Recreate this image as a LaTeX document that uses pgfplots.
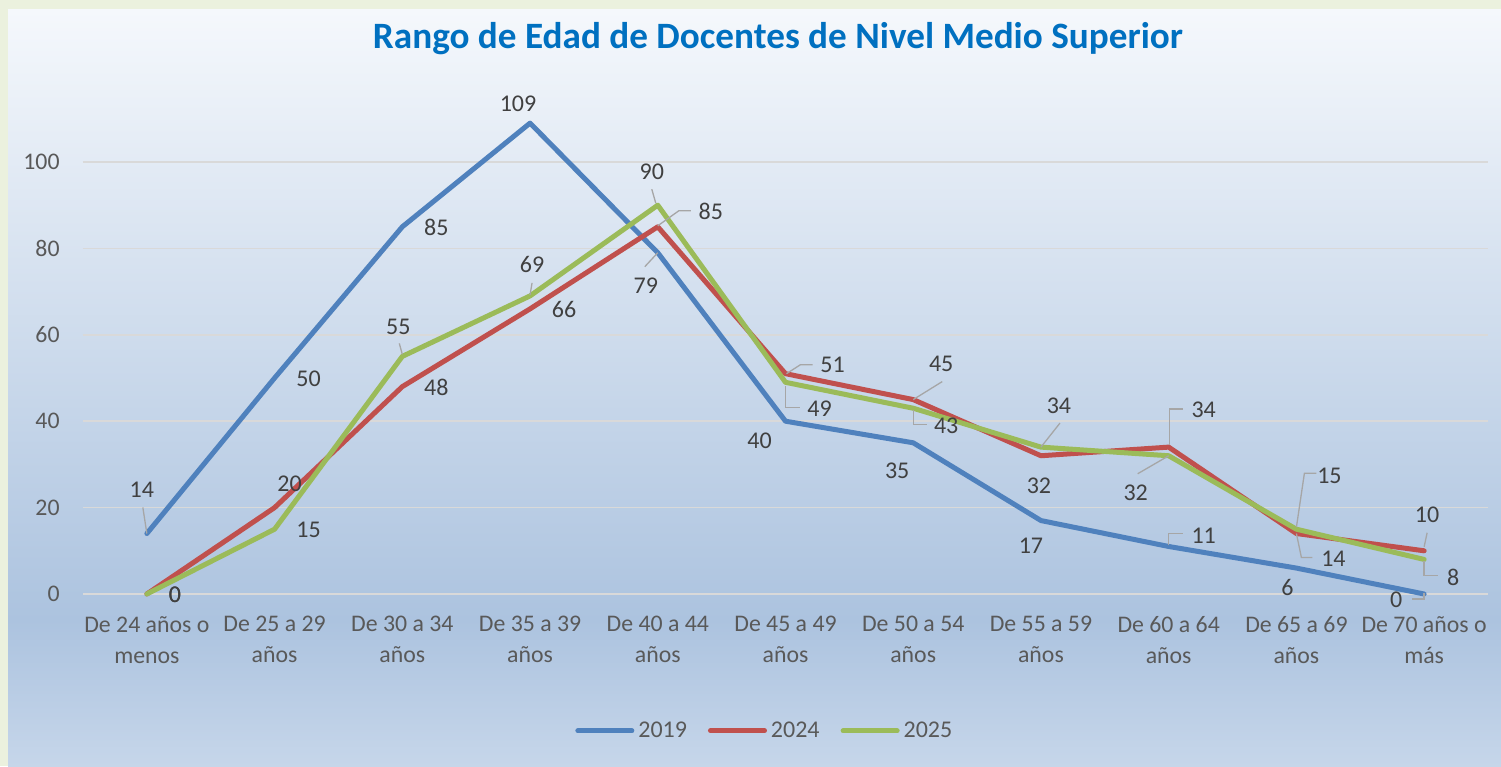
\documentclass[border=0pt]{standalone}
\usepackage{fontspec}
\setmainfont{Carlito}
\usepackage{pgfplots}
\usepackage{pgfplotstable}
\pgfplotsset{compat=1.18}
\definecolor{cA}{HTML}{4F81BD}
\definecolor{cB}{HTML}{C0504D}
\definecolor{cC}{HTML}{9BBB59}
\definecolor{bgborder}{HTML}{EBF1DE}
\definecolor{bgtop}{HTML}{F5F8FC}
\definecolor{bgmid}{HTML}{ACC3DF}
\definecolor{bgbot}{HTML}{C6D6EA}
\definecolor{gridc}{HTML}{D9D9D9}
\definecolor{tickc}{HTML}{595959}
\definecolor{labc}{HTML}{404040}
\definecolor{titc}{HTML}{0070C0}
\definecolor{leadc}{HTML}{A6A6A6}

\pgfplotstableread{
x y dx dy
0 14 -5 -43.5
1 50 34 1
2 85 34 1
3 109 -12 -19
4 79 -12 33
5 40 -26 20
6 35 -16 28
7 17 -10 25
8 11 35 -11
9 6 -9 19
10 0 -28 6
}\dataA
\pgfplotstableread{
x y dx dy
0 0 28 1
1 20 15 -24
2 48 34 1
3 66 34 1
4 85 53 -15
5 51 47 -9
6 45 28 -36
7 32 -2 30
8 34 35 -37
9 14 37 25
10 10 3 -36
}\dataB
\pgfplotstableread{
x y dx dy
0 0 28 1
1 15 34 1
2 55 -4 -30
3 69 2 -31
4 90 -6 -33
5 49 34 26
6 43 33 18
7 34 18 -41
8 32 -33 37
9 15 33 -53
10 8 29 18
}\dataC

% leader line point: x, y (data), xshift pt, yshift pt
\newcommand\lp[4]{([xshift=#3pt,yshift=#4pt]axis cs:#1,#2)}

\begin{document}
\begin{tikzpicture}[x=1pt,y=1pt]
\fill[bgborder] (0,0) rectangle (750.5,383);
\shade[top color=bgmid, bottom color=bgbot] (4,-0.1) rectangle (750.5,73);
\shade[top color=bgtop, bottom color=bgmid] (4,73) rectangle (750.5,378);
\node[font=\fontsize{18.6}{20}\selectfont\bfseries, text=titc, anchor=base] at (389,358.5) {Rango de Edad de Docentes de Nivel Medio Superior};
\begin{axis}[
  at={(41.5pt,86pt)}, anchor=south west,
  scale only axis, width=702.5pt, height=259.2pt,
  xmin=-0.5, xmax=10.5, ymin=0, ymax=120,
  clip=false,
  ytick={0,20,...,100},
  xtick={0,...,10},
  xticklabels={{De 24 años o\\menos},{De 25 a 29\\años},{De 30 a 34\\años},{De 35 a 39\\años},{De 40 a 44\\años},{De 45 a 49\\años},{De 50 a 54\\años},{De 55 a 59\\años},{De 60 a 64\\años},{De 65 a 69\\años},{De 70 años o\\más}},
  /pgf/number format/assume math mode=true,
  axis line style={draw=none},
  major tick length=0pt,
  ymajorgrids, grid style={color=gridc, line width=0.75pt},
  tick label style={font=\fontsize{11.9}{15.5}\selectfont, text=tickc, inner sep=0pt},
  yticklabel style={anchor=east, xshift=-11.5pt},
  xticklabel style={align=center, anchor=north, yshift=-11pt},
  legend style={at={(0.486,-0.264)}, anchor=center, draw=none, fill=none,
    legend columns=-1, font=\fontsize{12}{13}\selectfont, text=tickc,
    /tikz/every even column/.append style={column sep=8.5pt}},
  legend image code/.code={\draw[#1, line width=2.5pt, line cap=round] (0pt,0pt) -- (27pt,0pt);},
  lab/.style={draw=none, forget plot, nodes near coords,
    visualization depends on={\thisrow{dx}\as\dx},
    visualization depends on={\thisrow{dy}\as\dy},
    every node near coord/.append style={anchor=center, inner sep=0pt,
      font=\fontsize{12}{13}\selectfont, text=labc,
      xshift={\dx*0.5pt}, yshift={(0-\dy)*0.5pt}}},
  ser/.style={line width=2.5pt, line join=round, line cap=round, no markers},
]
\addplot[cA, ser] table[x=x,y=y] \dataA;
\addplot[cB, ser] table[x=x,y=y] \dataB;
\addplot[cC, ser] table[x=x,y=y] \dataC;
\legend{2019,2024,2025}
\begin{scope}[leadc, line width=0.65pt]
\draw \lp{0}{14}{0}{0} -- \lp{0}{14}{-2}{13};
\draw \lp{4}{79}{0}{0} -- \lp{4}{79}{-6.5}{-7};
\draw \lp{8}{11}{0}{0.5} -- \lp{8}{11}{0}{6.5} -- \lp{8}{11}{7}{6.5};
\draw \lp{10}{0}{0}{0.5} -- \lp{10}{0}{0}{-2.5} -- \lp{10}{0}{-6}{-2.5};
\draw \lp{4}{85}{0}{0.5} -- \lp{4}{85}{10.5}{8} -- \lp{4}{85}{16.5}{8};
\draw \lp{5}{51}{0.5}{0} -- \lp{5}{51}{7.5}{4.5} -- \lp{5}{51}{13.5}{4.5};
\draw \lp{6}{45}{0}{0} -- \lp{6}{45}{14.5}{9};
\draw \lp{8}{34}{0.5}{1} -- \lp{8}{34}{0.5}{19} -- \lp{8}{34}{7}{19};
\draw \lp{9}{14}{0}{0} -- \lp{9}{14}{2.5}{-12} -- \lp{9}{14}{8}{-12};
\draw \lp{10}{10}{0}{2} -- \lp{10}{10}{1.5}{9};
\draw \lp{2}{55}{0}{1} -- \lp{2}{55}{-1.5}{6.5};
\draw \lp{3}{69}{0}{0.5} -- \lp{3}{69}{1}{6.5};
\draw \lp{4}{90}{-3}{8} -- \lp{4}{90}{-1}{1};
\draw \lp{5}{49}{0}{-2} -- \lp{5}{49}{0}{-12.5} -- \lp{5}{49}{7}{-12.5};
\draw \lp{6}{43}{0}{-1} -- \lp{6}{43}{0}{-8} -- \lp{6}{43}{7}{-8};
\draw \lp{7}{34}{0}{0} -- \lp{7}{34}{9.5}{12};
\draw \lp{8}{32}{0}{0} -- \lp{8}{32}{-15.5}{-9};
\draw \lp{9}{15}{0}{1} -- \lp{9}{15}{4}{28} -- \lp{9}{15}{10}{28};
\draw \lp{10}{8}{0}{-1} -- \lp{10}{8}{0}{-8} -- \lp{10}{8}{7}{-8};
\end{scope}
\addplot[lab] table[x=x,y=y] \dataA;
\addplot[lab] table[x=x,y=y] \dataB;
\addplot[lab] table[x=x,y=y] \dataC;
\end{axis}
\end{tikzpicture}
\end{document}
